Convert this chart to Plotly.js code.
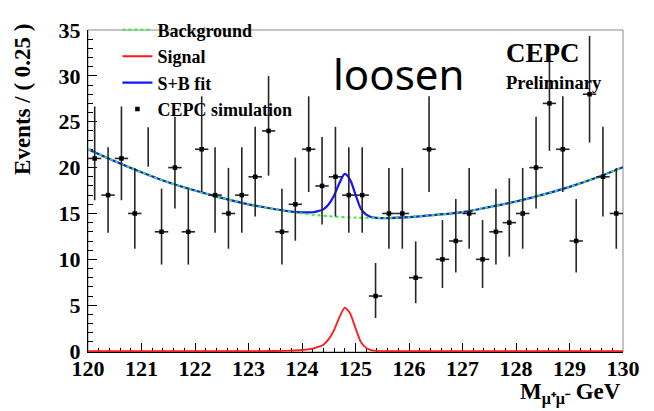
<!DOCTYPE html>
<html>
<head>
<meta charset="utf-8">
<script src="https://cdn.plot.ly/plotly-3.0.1.min.js"></script>
<style>
  html, body { margin: 0; padding: 0; background: #ffffff; }
  #chart { width: 654px; height: 411px; }
</style>
</head>
<body>
<div id="chart"></div>
<script>
// ---------- data ----------
// bin centres (bin width 0.25 GeV)
var binCenters = [120.125,120.375,120.625,120.875,121.125,121.375,121.625,121.875,
                  122.125,122.375,122.625,122.875,123.125,123.375,123.625,123.875,
                  124.125,124.375,124.625,124.875,125.125,125.375,125.625,125.875,
                  126.125,126.375,126.625,126.875,127.125,127.375,127.625,127.875,
                  128.125,128.375,128.625,128.875,129.125,129.375,129.625,129.875];
// events per bin (null = bin shown only as a partial error bar)
var binCounts = [21,17,21,15,null,13,20,13,
                 22,17,15,17,19,24,13,16,
                 22,18,19,17,17,6,15,15,
                 8,22,10,12,15,10,13,14,
                 15,20,27,22,12,28,19,15];
// the lone error-bar segment visible without a marker
var partialBinX = [121.125];
var partialBinLow = [20.1];
var partialBinHigh = [24.4];

// background (green dotted) curve
var bgX = [120,120.5,121,121.5,122,122.5,123,123.5,124,124.5,125,125.5,126,126.5,127,127.5,128,128.5,129,129.5,130];
var bgY = [22.0,20.7,19.5,18.4,17.5,16.7,16.0,15.45,15.0,14.7,14.55,14.5,14.6,14.85,15.15,15.7,16.3,17.05,17.9,18.9,20.05];

// signal (red) curve
var sigX = [120,123,123.5,123.8,124.0,124.2,124.3,124.4,124.5,124.6,124.7,124.8,124.9,125.0,125.1,125.2,125.3,125.4,125.6,126,130];
var sigY = [0,0,0.01,0.05,0.12,0.28,0.45,0.7,1.3,2.3,3.7,4.73,4.1,2.5,1.0,0.35,0.08,0.02,0,0,0];

// signal + background fit (blue) curve
var sbX = [120,120.5,121,121.5,122,122.5,123,123.5,123.8,124.0,124.2,124.3,124.4,124.5,124.6,124.7,124.8,124.9,125.0,125.1,125.2,125.3,125.4,125.6,126,126.5,127,127.5,128,128.5,129,129.5,130];
var sbY = [22.0,20.7,19.5,18.4,17.5,16.7,16.0,15.46,15.2,15.12,15.13,15.25,15.45,16.0,16.96,18.32,19.32,18.67,17.05,15.53,14.87,14.59,14.52,14.5,14.6,14.85,15.15,15.7,16.3,17.05,17.9,18.9,20.05];

// ---------- Poisson (asymmetric) error bars for the counts ----------
var pX = [], pY = [], errUp = [], errDn = [];
for (var i = 0; i < binCenters.length; i++) {
  var n = binCounts[i];
  if (n === null) continue;
  pX.push(binCenters[i]);
  pY.push(n);
  errUp.push(1 + Math.sqrt(n + 0.75));
  errDn.push(Math.sqrt(n - 0.25));
}
var partialLen = partialBinHigh.map(function (h, k) { return h - partialBinLow[k]; });

var serif = "Liberation Serif, Times New Roman, serif";
var errColor = "#262626";

var traces = [
  { // S+B fit (drawn first, green dots sit on top of it)
    x: sbX, y: sbY, type: "scatter", mode: "lines", name: "S+B fit",
    line: { color: "#1414ff", width: 2.2, shape: "spline", smoothing: 0.8 },
    legendrank: 3, legendgroup: "c", hoverinfo: "skip"
  },
  { // background
    x: bgX, y: bgY, type: "scatter", mode: "lines", name: "Background",
    line: { color: "#33ee33", width: 2, dash: "dot", shape: "spline", smoothing: 0.8 },
    legendrank: 1, legendgroup: "a", hoverinfo: "skip"
  },
  { // signal
    x: sigX, y: sigY, type: "scatter", mode: "lines", name: "Signal",
    line: { color: "#ff1a1a", width: 1.8, shape: "spline", smoothing: 0.6 },
    legendrank: 2, legendgroup: "b", hoverinfo: "skip"
  },
  { // partial error bar segment
    x: partialBinX, y: partialBinLow, type: "scatter", mode: "markers",
    marker: { size: 1, opacity: 0 }, showlegend: false, hoverinfo: "skip",
    error_y: { type: "data", symmetric: false, array: partialLen, arrayminus: [0],
               color: errColor, thickness: 1.6, width: 0 }
  },
  { // pseudo-data
    x: pX, y: pY, type: "scatter", mode: "markers", name: "CEPC simulation",
    marker: { symbol: "square", size: 4.5, color: "#000000" },
    error_y: { type: "data", symmetric: false, array: errUp, arrayminus: errDn,
               color: errColor, thickness: 1.6, width: 0 },
    error_x: { type: "constant", value: 0.125, color: errColor, thickness: 1.6, width: 0 },
    legendrank: 4, legendgroup: "d", hoverinfo: "skip"
  }
];

var layout = {
  width: 654, height: 411,
  margin: { l: 88, r: 31, t: 16, b: 59, pad: 0 },
  paper_bgcolor: "#ffffff", plot_bgcolor: "#ffffff",
  showlegend: true,
  font: { family: serif, color: "#000000" },
  xaxis: {
    range: [120, 130], tick0: 120, dtick: 1,
    ticks: "inside", ticklen: 9, tickwidth: 1, tickcolor: "#000000",
    minor: { dtick: 0.2, ticks: "inside", ticklen: 4, tickwidth: 1, tickcolor: "#000000" },
    showline: true, linecolor: "#000000", linewidth: 1, mirror: false,
    showgrid: false, zeroline: false, layer: "below traces",
    ticklabelstandoff: -3,
    tickfont: { family: serif, size: 22, color: "#000000", weight: "bold" }
  },
  yaxis: {
    range: [-0.1, 35], tick0: 0, dtick: 5,
    ticks: "inside", ticklen: 9, tickwidth: 1, tickcolor: "#000000",
    minor: { dtick: 1, ticks: "inside", ticklen: 4.5, tickwidth: 1, tickcolor: "#000000" },
    showline: true, linecolor: "#000000", linewidth: 1, mirror: false,
    showgrid: false, zeroline: false, layer: "below traces",
    ticklabelstandoff: 2,
    tickfont: { family: serif, size: 22, color: "#000000", weight: "bold" }
  },
  legend: {
    x: 0.055, y: 1.057, xanchor: "left", yanchor: "top",
    bgcolor: "rgba(0,0,0,0)", borderwidth: 0,
    traceorder: "grouped", tracegroupgap: 0, itemwidth: 30,
    font: { family: serif, size: 18, color: "#000000", weight: "bold" }
  },
  shapes: [
    { type: "rect", xref: "paper", yref: "paper", x0: 0, x1: 1, y0: 0, y1: 1,
      line: { color: "#8a8a8a", width: 1 }, fillcolor: "rgba(0,0,0,0)", layer: "below" }
  ],
  annotations: [
    { text: "Events / ( 0.25 )", xref: "paper", yref: "paper", x: -0.122, y: 0.785,
      xanchor: "center", yanchor: "middle", textangle: -90, showarrow: false,
      font: { family: serif, size: 23, color: "#000000", weight: "bold" } },
    { text: "M<sub>μ⁺μ⁻</sub> GeV", xref: "paper", yref: "paper", x: 1.0, y: -0.13,
      xanchor: "right", yanchor: "middle", showarrow: false,
      font: { family: serif, size: 23, color: "#000000", weight: "bold" } },
    { text: "loosen", xref: "paper", yref: "paper", x: 0.58, y: 0.865,
      xanchor: "center", yanchor: "middle", showarrow: false,
      font: { family: "Noto Sans, sans-serif", size: 42, color: "#000000" } },
    { text: "CEPC", xref: "paper", yref: "paper", x: 0.777, y: 0.93,
      xanchor: "left", yanchor: "middle", showarrow: false,
      font: { family: serif, size: 27, color: "#000000", weight: "bold" } },
    { text: "Preliminary", xref: "paper", yref: "paper", x: 0.777, y: 0.835,
      xanchor: "left", yanchor: "middle", showarrow: false,
      font: { family: serif, size: 18.5, color: "#000000", weight: "bold" } }
  ]
};

Plotly.newPlot("chart", traces, layout, { displayModeBar: false, staticPlot: true });
</script>
</body>
</html>
